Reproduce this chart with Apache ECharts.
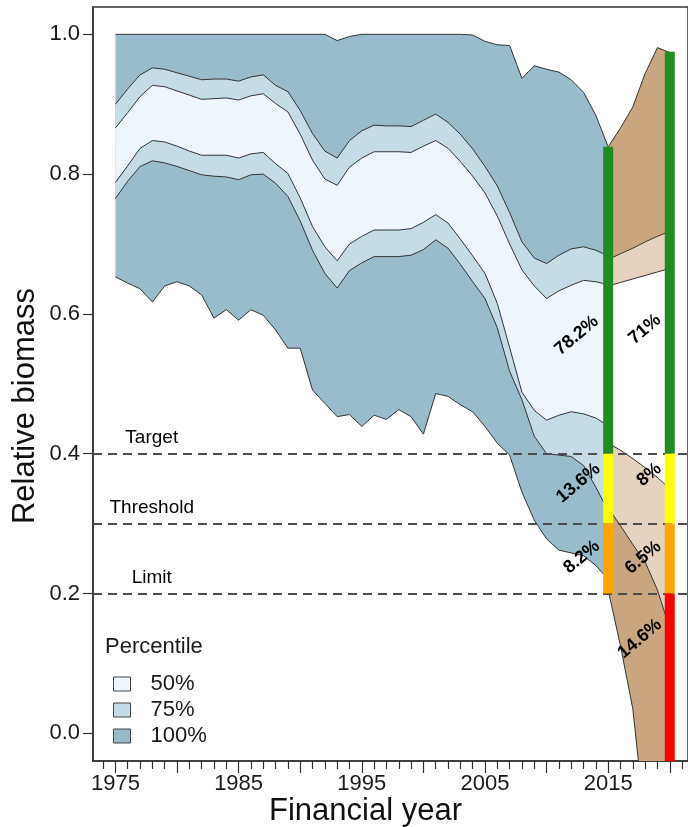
<!DOCTYPE html>
<html><head><meta charset="utf-8">
<script src="https://cdn.jsdelivr.net/npm/echarts@6/dist/echarts.min.js"></script>
<style>html,body{margin:0;padding:0;background:#fff}#c{width:688px;height:827px}</style>
</head><body><div id="c"></div><script>
// ---------- DATA ----------
const histYears = [1975,1976,1977,1978,1979,1980,1981,1982,1983,1984,1985,1986,1987,1988,1989,1990,1991,1992,1993,1994,1995,1996,1997,1998,1999,2000,2001,2002,2003,2004,2005,2006,2007,2008,2009,2010,2011,2012,2013,2014,2015];
const histMax = [1,1,1,1,1,1,1,1,1,1,1,1,1,1,1,1,1,1,0.991,0.997,1,1,1,1,1,1,1,1,1,0.999,0.990,0.985,0.984,0.937,0.955,0.950,0.946,0.935,0.917,0.884,0.839];
const histU75 = [0.900,0.922,0.942,0.952,0.950,0.945,0.940,0.935,0.936,0.936,0.933,0.939,0.942,0.927,0.918,0.891,0.858,0.833,0.823,0.848,0.862,0.870,0.869,0.869,0.868,0.877,0.886,0.874,0.857,0.836,0.811,0.783,0.745,0.703,0.680,0.672,0.684,0.693,0.696,0.691,0.683];
const histU50 = [0.866,0.888,0.911,0.927,0.925,0.919,0.913,0.907,0.908,0.909,0.906,0.912,0.915,0.901,0.889,0.857,0.820,0.793,0.784,0.810,0.823,0.832,0.832,0.832,0.831,0.840,0.848,0.837,0.818,0.797,0.773,0.740,0.700,0.663,0.640,0.622,0.633,0.641,0.648,0.646,0.642];
const histL50 = [0.788,0.812,0.837,0.848,0.846,0.840,0.833,0.827,0.827,0.827,0.823,0.829,0.831,0.815,0.801,0.766,0.725,0.696,0.676,0.700,0.711,0.720,0.720,0.720,0.722,0.731,0.742,0.730,0.707,0.683,0.658,0.615,0.552,0.488,0.462,0.448,0.455,0.460,0.457,0.451,0.440];
const histL75 = [0.765,0.790,0.811,0.819,0.816,0.811,0.805,0.799,0.797,0.796,0.792,0.799,0.800,0.787,0.768,0.733,0.691,0.658,0.637,0.662,0.673,0.682,0.682,0.682,0.684,0.692,0.706,0.694,0.671,0.646,0.622,0.580,0.518,0.477,0.425,0.400,0.398,0.396,0.383,0.352,0.318];
const histMin = [0.653,0.644,0.636,0.617,0.640,0.646,0.640,0.627,0.594,0.606,0.591,0.606,0.598,0.577,0.551,0.551,0.491,0.472,0.453,0.456,0.439,0.455,0.449,0.463,0.453,0.428,0.486,0.482,0.470,0.460,0.439,0.415,0.398,0.345,0.305,0.278,0.262,0.258,0.254,0.240,0.220];

const projYears = [2015,2016,2017,2018,2019,2020];
const projMax = [0.839,0.866,0.896,0.944,0.981,0.974];
const projU75 = [0.678,0.686,0.694,0.703,0.711,0.718];
const projU50 = [0.640,0.645,0.650,0.655,0.660,0.665];
const projL50 = [0.415,0.405,0.393,0.380,0.366,0.350];
const projL75 = [0.322,0.297,0.270,0.245,0.205,0.150];
const projMin = [0.205,0.125,0.035,-0.130,-0.350,-0.600];

const refValues = [0.4, 0.3, 0.2];
const refNames = ['Target', 'Threshold', 'Limit'];

const zoneBounds = [[0.4, 2], [0.3, 0.4], [0.2, 0.3], [-2, 0.2]]; // green, yellow, orange, red
const barYears = [2015, 2020];
const barTop = [0.839, 0.975];
const barBottom = [0.2, -0.6];

const pct2015 = ['78.2%', '13.6%', '8.2%'];
const pct2020 = ['71%', '8%', '6.5%', '14.6%'];

const xTickLabels = [1975, 1985, 1995, 2005, 2015];
const xMajorTicks = [1975, 1980, 1985, 1990, 1995, 2000, 2005, 2010, 2015, 2020];
const xMinorTicks = [1974,1976,1977,1978,1979,1981,1982,1983,1984,1986,1987,1988,1989,1991,1992,1993,1994,1996,1997,1998,1999,2001,2002,2003,2004,2006,2007,2008,2009,2011,2012,2013,2014,2016,2017,2018,2019,2021];
const yTicks = [0, 0.2, 0.4, 0.6, 0.8, 1.0];
const legendNames = ['50%', '75%', '100%'];

// ---------- STYLE / LAYOUT ----------
const FONT = 'Liberation Sans, Arial, Helvetica, sans-serif';
const C100 = '#98bccc', C75 = '#c4dce6', C50 = '#eef5fb';
const B100 = '#c9a67f', B75 = '#e6d3bf', B50 = '#ffffff';
const zoneColors = ['#228b22', '#ffff00', '#ffa500', '#ff0000'];
const LINE = '#333333';
const TXT = '#1a1a1a';
// label anchor positions (data coords) for percentage labels
const pctPos2015 = [[2012.44, 0.569], [2012.58, 0.358], [2012.85, 0.252]];
const pctPos2020 = [[2017.98, 0.578], [2018.33, 0.370], [2017.84, 0.2515], [2017.57, 0.135]];
const refLabelX = 1977.95;

function band(name, years, upper, lower, fill, z) {
  return {
    type: 'custom', name: name, z: z, clip: true, silent: true,
    itemStyle: { color: fill },
    data: [[years[0], upper[0]]],
    renderItem: function (params, api) {
      const up = years.map((yr, i) => api.coord([yr, upper[i]]));
      const lo = years.map((yr, i) => api.coord([yr, lower[i]]));
      const poly = up.concat(lo.slice().reverse());
      return {
        type: 'group', children: [
          { type: 'polygon', shape: { points: poly }, style: { fill: fill, stroke: null } },
          { type: 'polyline', shape: { points: up }, style: { stroke: LINE, lineWidth: 1, fill: null } },
          { type: 'polyline', shape: { points: lo }, style: { stroke: LINE, lineWidth: 1, fill: null } }
        ]
      };
    }
  };
}

const barData = [];
barYears.forEach((yr, i) => {
  zoneBounds.forEach((zb, k) => {
    const lo = Math.max(zb[0], barBottom[i]);
    const hi = Math.min(zb[1], barTop[i]);
    if (hi > lo) barData.push([yr, lo, hi, k]);
  });
});

const pctData = [];
pct2015.forEach((t, i) => pctData.push([pctPos2015[i][0], pctPos2015[i][1], t]));
pct2020.forEach((t, i) => pctData.push([pctPos2020[i][0], pctPos2020[i][1], t]));

const refLabelData = refValues.map((v, i) => [refLabelX, v, refNames[i]]);

const chart = echarts.init(document.getElementById('c'), null, { renderer: 'canvas' });
chart.setOption({
  animation: false,
  backgroundColor: '#ffffff',
  textStyle: { fontFamily: FONT },
  grid: { left: 93, top: 7, width: 597, height: 754, show: true, borderColor: '#333', borderWidth: 1.5, backgroundColor: 'transparent' },
  xAxis: [{
    type: 'value', min: 1973.18, max: 2021.48, position: 'bottom',
    axisLine: { show: true, onZero: false, lineStyle: { color: '#333', width: 1.5 } },
    axisTick: { show: true, length: 12, customValues: xMajorTicks, lineStyle: { color: '#333', width: 1.2 } },
    axisLabel: { show: true, customValues: xTickLabels, formatter: v => String(Math.round(v)), fontSize: 22, color: TXT, margin: 12, fontFamily: FONT },
    splitLine: { show: false }
  }, {
    type: 'value', min: 1973.18, max: 2021.48, position: 'bottom',
    axisLine: { show: false, onZero: false },
    axisTick: { show: true, length: 8, customValues: xMinorTicks, lineStyle: { color: '#333', width: 1.2 } },
    axisLabel: { show: false },
    splitLine: { show: false }
  }],
  yAxis: {
    type: 'value', min: -0.0397, max: 1.0391,
    axisLine: { show: true, onZero: false, lineStyle: { color: '#333', width: 1.5 } },
    axisTick: { show: true, length: 10, customValues: yTicks, lineStyle: { color: '#333', width: 1.2 } },
    axisLabel: { show: true, customValues: yTicks, formatter: v => v.toFixed(1), fontSize: 22, color: TXT, margin: 13, fontFamily: FONT },
    splitLine: { show: false }
  },
  legend: {
    left: 113, top: 671, orient: 'vertical', padding: 0, itemGap: 0,
    itemWidth: 17, itemHeight: 14, icon: 'rect', selectedMode: false,
    textStyle: { fontSize: 22, color: TXT, lineHeight: 26, padding: [0, 0, 0, 15], fontFamily: FONT },
    data: [
      { name: '50%', itemStyle: { color: C50, borderColor: '#444', borderWidth: 1 } },
      { name: '75%', itemStyle: { color: C75, borderColor: '#444', borderWidth: 1 } },
      { name: '100%', itemStyle: { color: C100, borderColor: '#444', borderWidth: 1 } }
    ]
  },
  graphic: [
    { type: 'text', x: 105, y: 647, style: { text: 'Percentile', fontSize: 22, fontFamily: FONT, fill: TXT, textAlign: 'left', textVerticalAlign: 'middle', align: 'left', verticalAlign: 'middle' } },
    { type: 'text', x: 365.5, y: 811, style: { text: 'Financial year', fontSize: 31, fontFamily: FONT, fill: '#111', textAlign: 'center', textVerticalAlign: 'middle', align: 'center', verticalAlign: 'middle' } },
    { type: 'text', x: 25, y: 406, rotation: Math.PI / 2, style: { text: 'Relative biomass', fontSize: 31, fontFamily: FONT, fill: '#111', textAlign: 'center', textVerticalAlign: 'middle', align: 'center', verticalAlign: 'middle' } }
  ],
  series: [
    band('100%', histYears, histMax, histMin, C100, 1),
    band('75%', histYears, histU75, histL75, C75, 2),
    band('50%', histYears, histU50, histL50, C50, 3),
    band('p100', projYears, projMax, projMin, B100, 1),
    band('p75', projYears, projU75, projL75, B75, 2),
    band('p50', projYears, projU50, projL50, B50, 3),
    {
      type: 'line', name: 'ref', z: 5, data: [], silent: true,
      markLine: {
        silent: true, symbol: ['none', 'none'], animation: false,
        label: { show: false },
        lineStyle: { color: '#4d4d4d', width: 2, type: [9, 6] },
        data: refValues.map(v => ({ yAxis: v }))
      }
    },
    {
      type: 'scatter', name: 'refLabels', z: 6, silent: true, symbolSize: 0,
      itemStyle: { opacity: 1 },
      data: refLabelData,
      label: { show: true, position: 'inside', offset: [0, -16], formatter: p => p.data[2], fontSize: 19, color: '#000', opacity: 1, fontFamily: FONT }
    },
    {
      type: 'custom', name: 'bars', z: 8, clip: true, silent: true,
      data: barData,
      encode: { x: 0, y: [1, 2] },
      renderItem: function (params, api) {
        const x = api.value(0);
        const p1 = api.coord([x, api.value(2)]);
        const p2 = api.coord([x, api.value(1)]);
        const w = 10;
        return { type: 'rect', shape: { x: p1[0] - w / 2, y: p1[1], width: w, height: p2[1] - p1[1] }, style: { fill: zoneColors[api.value(3)] } };
      }
    },
    {
      type: 'scatter', name: 'pct', z: 9, silent: true, symbolSize: 0,
      itemStyle: { opacity: 1 },
      data: pctData,
      label: { show: true, position: 'inside', rotate: 40, formatter: p => p.data[2], fontSize: 18, fontWeight: 'bold', color: '#000', opacity: 1, fontFamily: FONT }
    }
  ]
});
</script></body></html>
